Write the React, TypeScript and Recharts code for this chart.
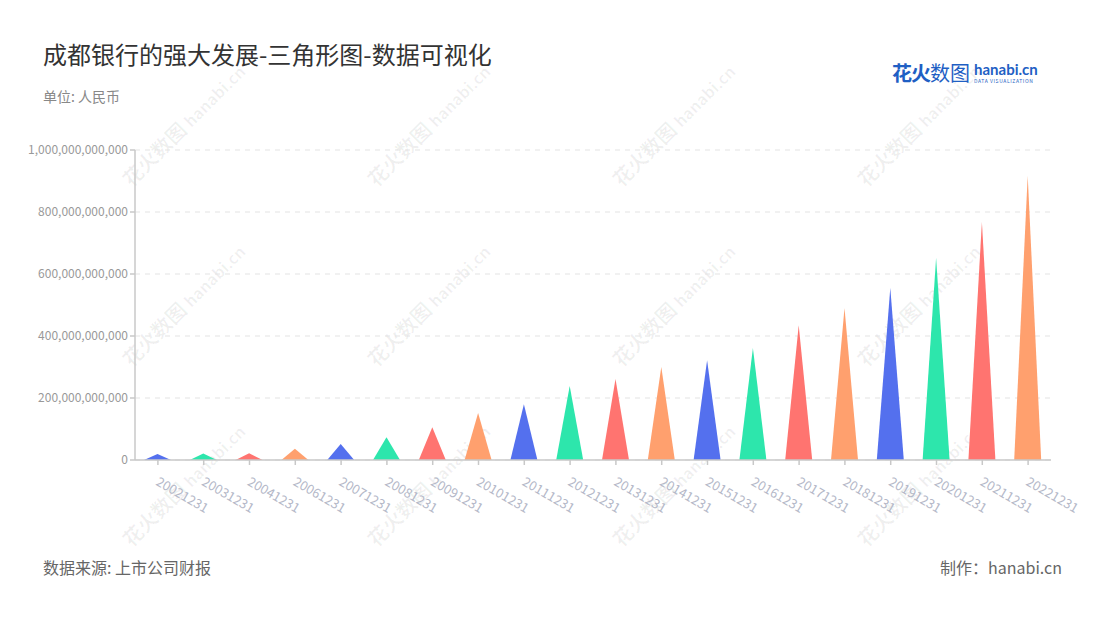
import React from 'react';
import { BarChart, Bar, XAxis, YAxis, CartesianGrid, Cell } from 'recharts';

const categories = ['20021231','20031231','20041231','20061231','20071231','20081231','20091231','20101231','20111231','20121231','20131231','20141231','20151231','20161231','20171231','20181231','20191231','20201231','20211231','20221231'];
const values = [19e9, 21e9, 22e9, 36e9, 52e9, 73e9, 106e9, 152e9, 180e9, 239e9, 261e9, 300e9, 322e9, 361e9, 435e9, 490e9, 555e9, 652e9, 768e9, 916e9];
const palette = ['#5470ee', '#2de6ac', '#ff7470', '#ffa06e'];
const yTicks = [0, 200e9, 400e9, 600e9, 800e9, 1000e9];

const data = categories.map((c, i) => ({ name: c, value: values[i] }));

const FONT = '"Noto Sans CJK SC", "Noto Sans", sans-serif';

const Triangle = (props: any) => {
  const { x, y, width, height, fill } = props;
  if (height == null || height <= 0) return null;
  const d = `M${x},${y + height} L${x + width / 2},${y} L${x + width},${y + height} Z`;
  return <path d={d} fill={fill} />;
};

const XTick = (props: any) => {
  const { x, y, payload } = props;
  const tx = x + 3;
  const ty = y + 7;
  return (
    <text
      x={tx}
      y={ty}
      transform={`rotate(30, ${tx}, ${ty})`}
      textAnchor="start"
      dominantBaseline="hanging"
      fill="#b4b8c8"
      fontSize={13}
      fontFamily={FONT}
    >
      {payload.value}
    </text>
  );
};

const watermarkPos: [number, number][] = [];
[175, 420, 665, 910].forEach((x) => {
  [130, 310, 490].forEach((y) => watermarkPos.push([x, y]));
});

export default function App() {
  return (
    <div style={{ position: 'fixed', left: 0, top: 0, width: 1100, height: 620, background: '#fff', fontFamily: FONT, overflow: 'hidden' }}>
      {watermarkPos.map(([x, y], i) => (
        <div
          key={i}
          style={{
            position: 'absolute',
            left: x - 70,
            top: y - 12,
            width: 140,
            textAlign: 'center',
            transform: 'rotate(-45deg)',
            color: 'rgba(0,0,0,0.06)',
            fontSize: 20,
            fontWeight: 700,
            whiteSpace: 'nowrap',
          }}
        >
          花火数图 <span style={{ fontSize: 16 }}>hanabi.cn</span>
        </div>
      ))}
      <div style={{ position: 'absolute', left: 43, top: 36, fontSize: 24, color: '#333' }}>
        成都银行的强大发展-三角形图-数据可视化
      </div>
      <div style={{ position: 'absolute', left: 43, top: 86, fontSize: 14, color: '#888' }}>单位: 人民币</div>
      <div style={{ position: 'absolute', left: 892, top: 58, display: 'flex', alignItems: 'center' }}>
        <span style={{ fontSize: 20, fontWeight: 700, color: '#1f5fc4', letterSpacing: -1 }}>花火</span>
        <span style={{ fontSize: 20, color: '#1f5fc4' }}>数图</span>
        <div style={{ marginLeft: 4, display: 'flex', flexDirection: 'column', lineHeight: 1 }}>
          <span style={{ fontSize: 15, fontWeight: 700, color: '#1f5fc4', fontFamily: 'Lato, sans-serif' }}>hanabi.cn</span>
          <span style={{ fontSize: 5, color: '#1f5fc4', letterSpacing: 0.6, marginTop: 1 }}>DATA VISUALIZATION</span>
        </div>
      </div>
      <div style={{ position: 'absolute', left: 43, top: 555, fontSize: 16, color: '#666' }}>数据来源: 上市公司财报</div>
      <div style={{ position: 'absolute', right: 38, top: 555, fontSize: 16, color: '#666' }}>制作：hanabi.cn</div>
      <div style={{ position: 'absolute', left: 0, top: 0 }}>
        <BarChart width={1100} height={620} data={data} margin={{ top: 150, right: 49, bottom: 100, left: 35 }}>
          <CartesianGrid vertical={false} stroke="#e3e3e3" strokeDasharray="5 5" />
          <XAxis
            dataKey="name"
            interval={0}
            height={60}
            stroke="#c8c8c8"
            strokeWidth={1.5}
            tickSize={5}
            tick={<XTick />}
          />
          <YAxis
            width={100}
            domain={[0, 1e12]}
            ticks={yTicks}
            stroke="#c8c8c8"
            strokeWidth={1.5}
            tickSize={5}
            tick={{ fill: '#999', fontSize: 12, fontFamily: FONT }}
            tickFormatter={(v: number) => v.toLocaleString('en-US')}
          />
          <Bar dataKey="value" barSize={27} shape={<Triangle />} isAnimationActive={false}>
            {data.map((d, i) => (
              <Cell key={d.name} fill={palette[i % 4]} />
            ))}
          </Bar>
        </BarChart>
      </div>
    </div>
  );
}
